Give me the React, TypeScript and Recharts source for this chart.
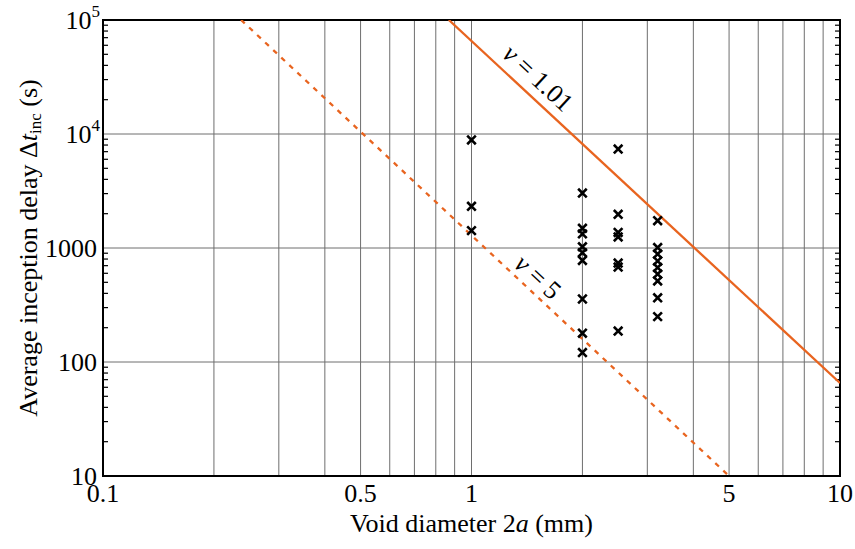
import React from "react";
import {
  ScatterChart,
  Scatter,
  XAxis,
  YAxis,
  CartesianGrid,
  ReferenceArea,
  ReferenceDot,
} from "recharts";

// measured inception delays (s) per void diameter (mm)
const delaysAt1 = [8860, 2320, 1420];
const delaysAt2 = [3035, 1490, 1330, 1025, 910, 777, 357, 179, 121];
const delaysAt25 = [7380, 1976, 1368, 1249, 738, 681, 187];
const delaysAt32 = [1735, 1010, 885, 769, 674, 591, 514, 366, 250];

// model lines, end points
const solidLineX = [0.868, 10];
const solidLineY = [100000, 65.4];
const dashedLineX = [0.237, 5.0];
const dashedLineY = [100000, 10];

const xTicks = [
  0.1, 0.2, 0.3, 0.4, 0.5, 0.6, 0.7, 0.8, 0.9, 1, 2, 3, 4, 5, 6, 7, 8, 9, 10,
];
const xLabelTicks = [0.1, 0.5, 1, 5, 10];
const yTicks = [10, 100, 1000, 10000, 100000];
const yMinorTicks = [
  20, 30, 40, 50, 60, 70, 80, 90, 200, 300, 400, 500, 600, 700, 800, 900, 2000,
  3000, 4000, 5000, 6000, 7000, 8000, 9000, 20000, 30000, 40000, 50000, 60000,
  70000, 80000, 90000,
];

const FONT = "'Liberation Serif', 'Times New Roman', serif";
const ORANGE = "#e8641f";

const points = [
  ...delaysAt1.map((t) => ({ d: 1, t })),
  ...delaysAt2.map((t) => ({ d: 2, t })),
  ...delaysAt25.map((t) => ({ d: 2.5, t })),
  ...delaysAt32.map((t) => ({ d: 3.2, t })),
];
const solidLine = solidLineX.map((d, i) => ({ d, t: solidLineY[i] }));
const dashedLine = dashedLineX.map((d, i) => ({ d, t: dashedLineY[i] }));

const Cross = ({ cx, cy }: any) => {
  const s = 4.3;
  return (
    <path
      d={`M${cx - s},${cy - s}L${cx + s},${cy + s}M${cx - s},${cy + s}L${cx + s},${cy - s}`}
      stroke="#000"
      strokeWidth={2.6}
      fill="none"
    />
  );
};

const XTick = ({ x, y, payload }: any) => {
  if (!xLabelTicks.includes(payload.value)) return <g />;
  return (
    <text x={x} y={y} dy={18} textAnchor="middle" fontFamily={FONT} fontSize={26} fill="#000">
      {payload.value}
    </text>
  );
};

const YTick = ({ x, y, payload }: any) => {
  const v = payload.value;
  if (v >= 10000) {
    const exp = Math.round(Math.log10(v));
    return (
      <text x={x + 3} y={y} dy={9} textAnchor="end" fontFamily={FONT} fontSize={26} fill="#000">
        <tspan>10</tspan>
        <tspan dy={-12} fontSize={17}>
          {exp}
        </tspan>
      </text>
    );
  }
  return (
    <text x={x} y={y} dy={9} textAnchor="end" fontFamily={FONT} fontSize={26} fill="#000">
      {v}
    </text>
  );
};

const NuLabel = (text: string) => ({ cx, cy }: any) => (
  <text
    x={cx}
    y={cy}
    textAnchor="middle"
    dominantBaseline="central"
    transform={`rotate(43 ${cx} ${cy})`}
    fontFamily={FONT}
    fontSize={26}
    fill="#000"
  >
    <tspan fontStyle="italic">ν</tspan>
    {text}
  </text>
);

export default function App() {
  return (
    <div style={{ position: "absolute", left: 0, top: 0, width: 855, height: 549, background: "#fff" }}>
      <ScatterChart
        width={855}
        height={549}
        margin={{ top: 20, right: 15, bottom: 0, left: 0 }}
      >
        <CartesianGrid stroke="#6e6e6e" strokeWidth={1} />
        <XAxis
          dataKey="d"
          type="number"
          scale="log"
          domain={[0.1, 10]}
          ticks={xTicks}
          interval={0}
          allowDataOverflow
          height={73}
          tick={<XTick />}
          tickLine={false}
          tickSize={0}
          tickMargin={8}
          axisLine={false}
        />
        <YAxis
          dataKey="t"
          type="number"
          scale="log"
          domain={[10, 100000]}
          ticks={yTicks}
          interval={0}
          allowDataOverflow
          width={103}
          tick={<YTick />}
          tickLine={false}
          tickSize={0}
          tickMargin={6}
          axisLine={false}
        />
        <YAxis
          yAxisId="minorL"
          orientation="left"
          mirror
          type="number"
          scale="log"
          domain={[10, 100000]}
          ticks={yMinorTicks}
          interval={0}
          allowDataOverflow
          tick={() => <g />}
          tickLine={{ stroke: "#000", strokeWidth: 1.2 }}
          tickSize={5}
          axisLine={false}
        />
        <YAxis
          yAxisId="minorR"
          orientation="right"
          mirror
          type="number"
          scale="log"
          domain={[10, 100000]}
          ticks={yMinorTicks}
          interval={0}
          allowDataOverflow
          tick={() => <g />}
          tickLine={{ stroke: "#000", strokeWidth: 1.2 }}
          tickSize={5}
          axisLine={false}
        />
        <ReferenceArea
          x1={0.1}
          x2={10}
          y1={10}
          y2={100000}
          fill="none"
          stroke="#000"
          strokeWidth={2}
        />
        <Scatter
          data={dashedLine}
          line={{ stroke: ORANGE, strokeWidth: 2.3, strokeDasharray: "5 6" }}
          shape={() => <g />}
          isAnimationActive={false}
        />
        <Scatter
          data={solidLine}
          line={{ stroke: ORANGE, strokeWidth: 2.3 }}
          shape={() => <g />}
          isAnimationActive={false}
        />
        <Scatter data={points} shape={<Cross />} isAnimationActive={false} />
        <ReferenceDot x={1.516} y={30950} r={0} shape={NuLabel(" = 1.01")} />
        <ReferenceDot x={1.516} y={557} r={0} shape={NuLabel(" = 5")} />
      </ScatterChart>
      <div
        style={{
          position: "absolute",
          left: 30,
          top: 248,
          transform: "translate(-50%, -50%) rotate(-90deg)",
          whiteSpace: "nowrap",
          fontFamily: FONT,
          fontSize: 26,
          lineHeight: 1,
          color: "#000",
        }}
      >
        Average inception delay Δ<i>t</i>
        <sub style={{ fontSize: 17, verticalAlign: "-4px" }}>inc</sub> (s)
      </div>
      <div
        style={{
          position: "absolute",
          left: 471.5,
          top: 524,
          transform: "translate(-50%, -50%)",
          whiteSpace: "nowrap",
          fontFamily: FONT,
          fontSize: 26,
          lineHeight: 1,
          color: "#000",
        }}
      >
        Void diameter 2<i>a</i> (mm)
      </div>
    </div>
  );
}
